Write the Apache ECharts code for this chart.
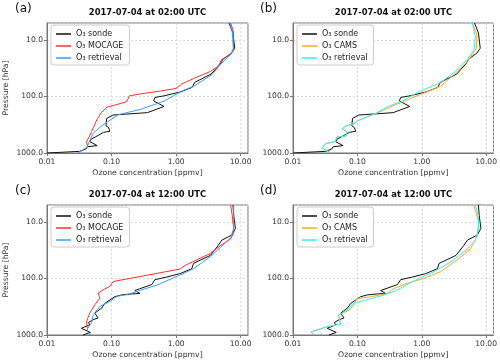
<!DOCTYPE html>
<html>
<head>
<meta charset="utf-8">
<script src="https://cdn.jsdelivr.net/npm/echarts/dist/echarts.min.js"></script>
<style>
  html, body { margin: 0; padding: 0; background: #fff; }
  #ozone-chart { width: 500px; height: 364px; }
</style>
</head>
<body>
<div id="ozone-chart"></div>
<script>
// profiles: [ozone ppmv, pressure hPa]
// 02:00 UTC
const sonde0200 = [[0.010,1000],[0.032,935],[0.040,850],[0.042,775],[0.060,740],[0.046,630],[0.048,570],[0.056,520],[0.066,470],[0.075,432],[0.094,412],[0.090,355],[0.082,330],[0.084,245],[0.105,213],[0.36,193],[0.65,150],[0.45,120],[0.47,104],[0.66,97],[1.17,83],[1.77,69],[1.95,56],[3.5,40],[4.9,26],[5.3,22],[7.2,17],[8.1,14],[7.6,7.5],[6.6,5]];
const mocage0200 = [[0.043,790],[0.041,640],[0.049,420],[0.059,260],[0.070,190],[0.085,155],[0.17,124],[0.18,110],[0.19,97],[0.28,90],[0.57,80],[1.0,72],[1.23,60],[1.87,48],[3.4,36],[4.5,29],[5.1,22],[7.0,18],[7.8,15],[7.7,7],[7.0,5]];
const retrMocage0200 = [[0.030,1000],[0.036,880],[0.042,780],[0.045,640],[0.052,445],[0.074,316],[0.127,210],[0.28,169],[0.65,121],[1.23,80],[1.87,66],[3.6,41],[4.9,27],[7.0,18],[7.7,14],[7.4,7],[6.8,5]];
const cams0200 = [[0.038,980],[0.028,826],[0.032,683],[0.045,630],[0.048,521],[0.067,500],[0.069,426],[0.058,372],[0.065,334],[0.088,304],[0.10,270],[0.20,198],[0.32,154],[0.50,125],[0.95,92],[1.95,66],[3.15,41],[5.1,24],[7.1,14],[7.2,8.1],[6.1,5]];
const retrCams0200 = [[0.038,980],[0.028,826],[0.032,683],[0.045,630],[0.048,521],[0.067,500],[0.069,426],[0.058,372],[0.065,334],[0.088,304],[0.099,272],[0.20,194],[0.32,145],[0.47,125],[0.95,80],[1.95,57],[3.15,38],[5.1,22],[6.5,15],[6.8,8.6],[6.1,5]];
// 12:00 UTC
const sonde1200 = [[0.036,1000],[0.047,900],[0.034,760],[0.046,660],[0.044,600],[0.052,535],[0.062,500],[0.055,410],[0.070,335],[0.079,275],[0.112,210],[0.144,195],[0.20,188],[0.275,184],[0.23,163],[0.42,128],[0.47,105],[0.72,94],[1.15,82],[1.75,67],[1.86,54],[3.4,39],[4.5,26],[5.1,21],[7.3,17],[8.3,13],[7.8,7.6],[7.6,5]];
const mocage1200 = [[0.042,760],[0.041,573],[0.046,408],[0.055,291],[0.066,222],[0.062,181],[0.074,158],[0.094,138],[0.106,113],[0.113,105],[1.15,68],[1.4,58],[3.4,36],[4.9,26],[7.0,20],[7.9,15],[7.4,7.6],[7.0,5]];
const retrMocage1200 = [[0.048,1000],[0.043,900],[0.042,780],[0.049,612],[0.052,437],[0.066,312],[0.095,254],[0.12,207],[0.17,194],[0.50,131],[1.15,87],[1.86,67],[3.4,41],[4.9,28],[7.0,19],[7.8,13],[7.8,7.6],[7.8,5]];
const cams1200 = [[0.021,980],[0.019,880],[0.034,713],[0.055,640],[0.051,444],[0.075,362],[0.088,295],[0.099,225],[0.159,211],[0.289,184],[0.367,150],[0.59,122],[1.07,100],[1.95,76],[3.54,47],[5.7,30],[7.2,18],[7.7,10],[6.4,5]];
const retrCams1200 = [[0.021,980],[0.019,880],[0.034,713],[0.055,640],[0.051,444],[0.069,362],[0.088,276],[0.133,241],[0.256,197],[0.41,161],[0.59,128],[0.90,100],[1.54,76],[2.8,51],[4.8,32],[6.8,21],[7.7,13],[7.5,7.6],[6.8,5]];

const panelTitles = ['2017-07-04 at 02:00 UTC', '2017-07-04 at 02:00 UTC', '2017-07-04 at 12:00 UTC', '2017-07-04 at 12:00 UTC'];
const panelLetters = ['(a)', '(b)', '(c)', '(d)'];
const xRange = [0.01, 13];
const yRange = [5, 1000];

const font = 'DejaVu Sans';
const gridLeft = [47, 293];
const gridTop = [23, 205];
const gridW = 201, gridH = 130;

const panels = [
  {sonde: sonde0200, model: mocage0200, retr: retrMocage0200, modelName: 'MOCAGE', modelColor: '#ff3030', retrColor: '#3d9bff'},
  {sonde: sonde0200, model: cams0200, retr: retrCams0200, modelName: 'CAMS', modelColor: '#ffa726', retrColor: '#33f0f0'},
  {sonde: sonde1200, model: mocage1200, retr: retrMocage1200, modelName: 'MOCAGE', modelColor: '#ff3030', retrColor: '#3d9bff'},
  {sonde: sonde1200, model: cams1200, retr: retrCams1200, modelName: 'CAMS', modelColor: '#ffa726', retrColor: '#33f0f0'}
];

const legendText = {};
let grids = [], xAxes = [], yAxes = [], series = [], legends = [], graphics = [];

panels.forEach((p, i) => {
  const left = gridLeft[i % 2], top = gridTop[Math.floor(i / 2)];
  grids.push({left: left, top: top, width: gridW, height: gridH, show: true, borderColor: '#777', borderWidth: 1});
  xAxes.push({
    type: 'log', logBase: 10, gridIndex: i, min: xRange[0], max: xRange[1],
    name: 'Ozone concentration [ppmv]', nameLocation: 'middle', nameGap: 16,
    nameTextStyle: {fontFamily: font, fontSize: 7.7, color: '#333'},
    axisLine: {lineStyle: {color: '#777'}},
    axisTick: {length: 3, lineStyle: {color: '#777'}},
    axisLabel: {fontFamily: font, fontSize: 7.6, color: '#333', margin: 5, showMaxLabel: false,
      formatter: v => Number(v).toFixed(2)},
    splitLine: {show: true, lineStyle: {color: '#d0d0d0', type: [2, 2], width: 0.8}}
  });
  yAxes.push({
    type: 'log', logBase: 10, gridIndex: i, inverse: true, min: yRange[0], max: yRange[1],
    name: i % 2 === 0 ? 'Pressure [hPa]' : '', nameLocation: 'middle', nameGap: 37,
    nameTextStyle: {fontFamily: font, fontSize: 7.7, color: '#333'},
    axisLine: {lineStyle: {color: '#777'}},
    axisTick: {length: 3, lineStyle: {color: '#777'}},
    axisLabel: {fontFamily: font, fontSize: 7.6, color: '#333', margin: 4, showMinLabel: false,
      formatter: v => Number(v).toFixed(1)},
    splitLine: {show: true, lineStyle: {color: '#d0d0d0', type: [2, 2], width: 0.8}}
  });

  const names = ['sonde' + i, 'model' + i, 'retr' + i];
  legendText[names[0]] = 'O₃ sonde';
  legendText[names[1]] = 'O₃ ' + p.modelName;
  legendText[names[2]] = 'O₃ retrieval';
  [[p.sonde, '#111'], [p.model, p.modelColor], [p.retr, p.retrColor]].forEach((s, k) => {
    series.push({
      name: names[k], type: 'line', xAxisIndex: i, yAxisIndex: i,
      data: s[0], showSymbol: false, symbol: 'none', color: s[1],
      lineStyle: {width: 1, color: s[1]}, animation: false
    });
  });

  legends.push({
    left: left + 4, top: top + 2, orient: 'vertical', data: names, selectedMode: false,
    icon: 'rect', itemWidth: 15, itemHeight: 1.5, itemGap: 2,
    padding: [4, 6, 2, 5], borderColor: '#ccc', borderWidth: 1, borderRadius: 3, backgroundColor: '#fff',
    textStyle: {fontFamily: font, fontSize: 8, color: '#222', lineHeight: 10},
    formatter: name => legendText[name]
  });

  // title and panel letter
  graphics.push({
    type: 'text', x: left + gridW / 2, y: top - 10,
    style: {text: panelTitles[i], font: 'bold 8.4px "DejaVu Sans"', fill: '#111', textAlign: 'center', textVerticalAlign: 'middle'}
  });
  graphics.push({
    type: 'text', x: (i % 2 === 0 ? 15 : 260), y: top - 14,
    style: {text: panelLetters[i], font: '12px "DejaVu Sans"', fill: '#111', textAlign: 'left', textVerticalAlign: 'middle'}
  });
});

const myChart = echarts.init(document.getElementById('ozone-chart'));
myChart.setOption({
  backgroundColor: '#fff',
  animation: false,
  grid: grids,
  xAxis: xAxes,
  yAxis: yAxes,
  legend: legends,
  graphic: graphics,
  series: series
});
</script>
</body>
</html>
